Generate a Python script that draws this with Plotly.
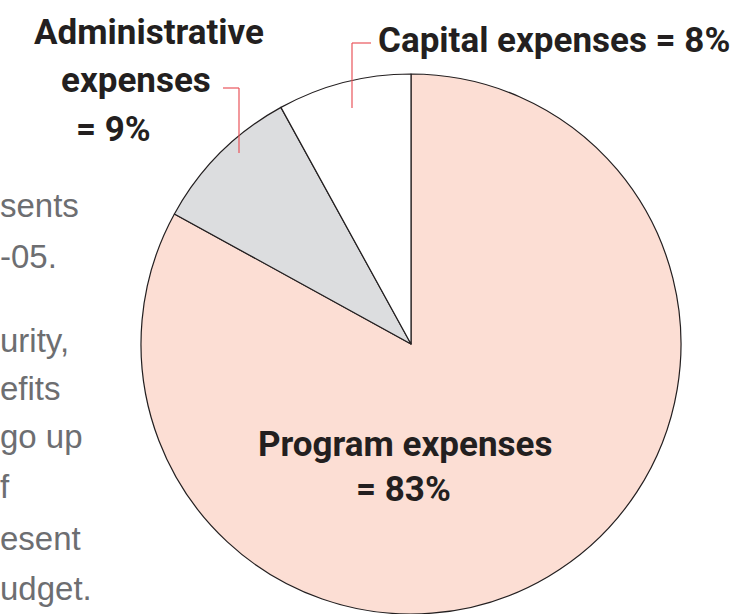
import plotly.graph_objects as go

# Data (listed clockwise from 12 o'clock)
labels = ["Program expenses", "Administrative expenses", "Capital expenses"]
values = [83, 9, 8]
colors = ["#FCDED4", "#DCDDDF", "#FFFFFF"]

# Cut-off paragraph text on the left
side_lines = ["sents", "-05.", "urity,", "efits", "go up", "f", "esent", "udget."]
side_baselines = [217, 268, 352, 400, 448, 498, 550, 600]

W, H = 743, 614


def px(x):
    return x / W


def py(y):
    return 1 - y / H


fig = go.Figure()
fig.add_trace(go.Pie(
    labels=labels,
    values=values,
    marker=dict(colors=colors, line=dict(color="#231F20", width=1.2)),
    sort=False,
    direction="clockwise",
    rotation=0,
    textinfo="none",
    textposition="inside",
    hoverinfo="label+percent",
    domain=dict(x=[px(141), px(681)], y=[0, py(74)]),
    showlegend=False,
))

bold = dict(family="Roboto, Noto Sans, sans-serif",
            size=35, color="#231F20", weight="bold")
grey = dict(family="Liberation Sans, Arial, sans-serif", size=33, color="#6D6E71")

ann = []


def add_text(text, cx, baseline, font, xanchor="center", off=13):
    ann.append(dict(text=text, x=px(cx), y=py(baseline - off), xref="paper", yref="paper",
                    xanchor=xanchor, yanchor="middle", showarrow=False, font=font))


add_text("Administrative", 149, 45, bold)
add_text("expenses", 136, 93, bold)
add_text("= 9%", 113, 142, bold)
add_text("Capital expenses = 8%", 554, 53, bold)
add_text("Program expenses", 405, 457, bold)
add_text("= 83%", 403, 502, bold)

for t, b in zip(side_lines, side_baselines):
    add_text(t, -2, b, grey, xanchor="left", off=11.5)

red = "#E9545B"
shapes = []
for (x0, y0, x1, y1) in [(223, 88, 239, 88), (239, 88, 239, 153),
                         (352, 43, 371, 43), (352, 43, 352, 108)]:
    shapes.append(dict(type="line", xref="paper", yref="paper",
                       x0=px(x0), y0=py(y0), x1=px(x1), y1=py(y1),
                       line=dict(color=red, width=1.2)))

fig.update_layout(
    width=W, height=H,
    margin=dict(l=0, r=0, t=0, b=0),
    paper_bgcolor="white", plot_bgcolor="white",
    annotations=ann, shapes=shapes,
)

fig.write_html("out.html")
